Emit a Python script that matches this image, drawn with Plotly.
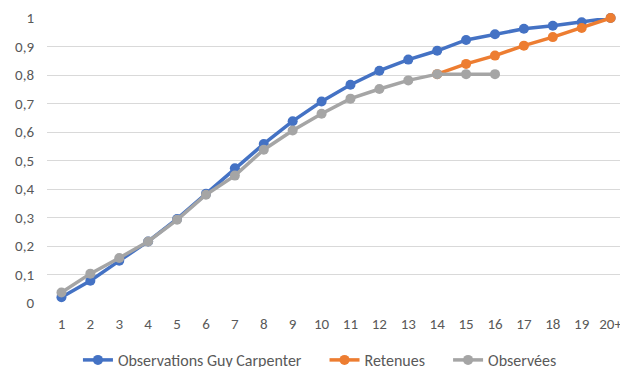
import plotly.graph_objects as go

categories = [str(i) for i in range(1, 20)] + ["20+"]

guy_carpenter = [0.020, 0.078, 0.148, 0.216, 0.295, 0.383, 0.473, 0.558, 0.638, 0.707,
                 0.766, 0.815, 0.854, 0.885, 0.923, 0.943, 0.962, 0.973, 0.985, 1.0]
retenues = [None] * 13 + [0.803, 0.839, 0.868, 0.903, 0.933, 0.965, 1.0]
observees = [0.037, 0.103, 0.158, 0.216, 0.292, 0.380, 0.447, 0.538, 0.605, 0.664,
             0.717, 0.751, 0.781, 0.803, 0.803, 0.803] + [None] * 4

y_ticks = [0, 0.1, 0.2, 0.3, 0.4, 0.5, 0.6, 0.7, 0.8, 0.9, 1]

FONT = "Carlito, Calibri, 'Noto Sans', sans-serif"
PAD = "\u00a0" * 5

series = [
    ("Observations Guy Carpenter", guy_carpenter, "#4472C4"),
    ("Retenues", retenues, "#ED7D31"),
    ("Observées", observees, "#A5A5A5"),
]

fig = go.Figure()
for name, vals, color in series:
    fig.add_trace(go.Scatter(
        x=categories, y=vals, name=name + PAD, mode="lines+markers",
        line=dict(color=color, width=3.5),
        marker=dict(color=color, size=10),
        connectgaps=False, cliponaxis=False,
    ))

fig.update_layout(
    width=620, height=367,
    margin=dict(l=47, r=0, t=18, b=64, autoexpand=False),
    paper_bgcolor="white", plot_bgcolor="white",
    separators=", ",
    font=dict(family=FONT, size=15, color="#595959"),
    showlegend=True,
    legend=dict(orientation="h", x=0.054, xanchor="left", y=-0.2, yanchor="middle",
                font=dict(family=FONT, size=16, color="#595959"),
                itemwidth=30, tracegroupgap=0, bgcolor="rgba(0,0,0,0)"),
)
fig.update_xaxes(type="category", categoryorder="array", categoryarray=categories,
                 range=[-0.5, 19.325], showgrid=False, zeroline=False,
                 showline=False, ticks="", ticklabelstandoff=10, automargin=False,
                 tickfont=dict(family=FONT, size=15, color="#595959"))
fig.update_yaxes(range=[0, 1], tickvals=y_ticks, showgrid=True, gridcolor="#D9D9D9",
                 gridwidth=1, zeroline=False, showline=False, ticks="",
                 ticklabelstandoff=12, automargin=False,
                 tickfont=dict(family=FONT, size=15, color="#595959"))

fig.write_html("out.html", config={"displayModeBar": False},
               post_script="document.body.style.margin='0';")
